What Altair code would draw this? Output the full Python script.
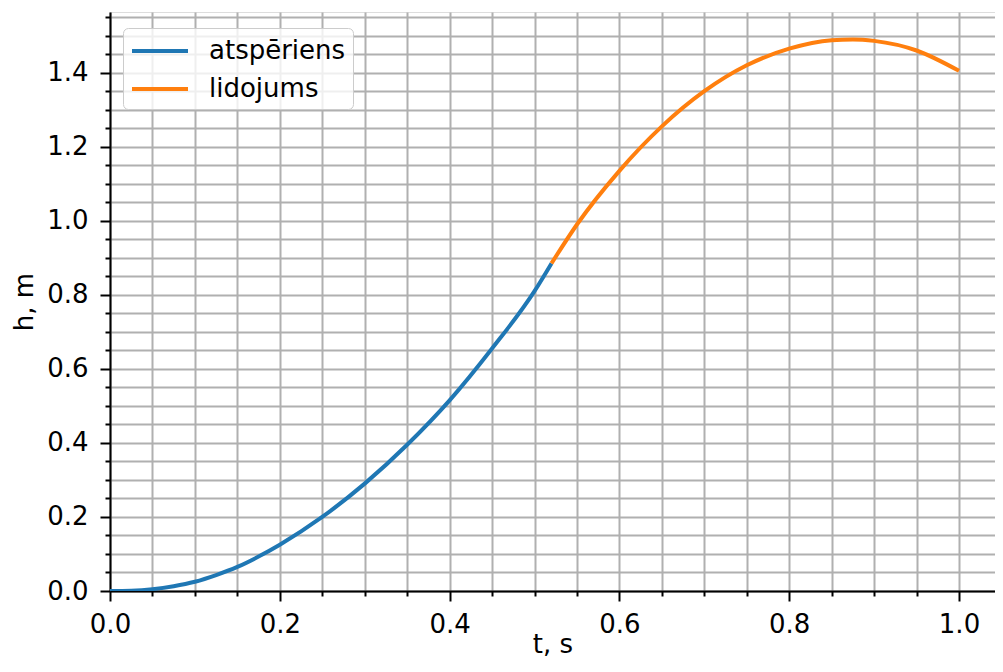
import altair as alt
import pandas as pd

# Series: take-off phase (atspēriens) and flight phase (lidojums)
t_blue = [0.0, 0.025, 0.05, 0.075, 0.1, 0.125, 0.15, 0.175, 0.2, 0.25, 0.3, 0.35, 0.4, 0.45, 0.5, 0.52]
h_blue = [0.0, 0.001, 0.005, 0.013, 0.025, 0.043, 0.065, 0.093, 0.125, 0.2, 0.29, 0.395, 0.515, 0.655, 0.81, 0.885]

t_orange = [0.52, 0.55, 0.6, 0.65, 0.7, 0.75, 0.8, 0.85, 0.875, 0.9, 0.95, 1.0]
h_orange = [0.885, 0.99, 1.135, 1.255, 1.35, 1.42, 1.465, 1.488, 1.49, 1.486, 1.46, 1.405]

series_names = ["atspēriens", "lidojums"]
series_colors = ["#1f77b4", "#ff7f0e"]

x_ticks = [0.0, 0.05, 0.1, 0.15, 0.2, 0.25, 0.3, 0.35, 0.4, 0.45, 0.5, 0.55,
           0.6, 0.65, 0.7, 0.75, 0.8, 0.85, 0.9, 0.95, 1.0]
y_ticks = [0.0, 0.05, 0.1, 0.15, 0.2, 0.25, 0.3, 0.35, 0.4, 0.45, 0.5, 0.55,
           0.6, 0.65, 0.7, 0.75, 0.8, 0.85, 0.9, 0.95, 1.0, 1.05, 1.1, 1.15,
           1.2, 1.25, 1.3, 1.35, 1.4, 1.45, 1.5, 1.55]

df = pd.concat([
    pd.DataFrame({"t": t_blue, "h": h_blue, "series": series_names[0]}),
    pd.DataFrame({"t": t_orange, "h": h_orange, "series": series_names[1]}),
])

major = "abs(datum.value*5 - round(datum.value*5)) < 0.001"
FONT = "DejaVu Sans"
FS = 26


def make_axis(values, title, label_pad, **kw):
    return alt.Axis(
        values=values,
        title=title,
        grid=True,
        gridColor="#b0b0b0",
        gridWidth=2,
        gridOpacity=1,
        domain=True,
        domainColor="black",
        domainWidth=2,
        ticks=True,
        tickColor="black",
        tickWidth=2,
        tickSize={"condition": {"test": major, "value": 10}, "value": 5},
        labelExpr=f"({major}) ? format(datum.value, '.1f') : ''",
        labelFont=FONT,
        labelFontSize=FS,
        labelColor="black",
        labelPadding=label_pad,
        labelOverlap=False,
        labelFlush=False,
        titleFont=FONT,
        titleFontSize=FS,
        titleFontWeight="normal",
        titleColor="black",
        titleBaseline="alphabetic",
        **kw,
    )


chart = (
    alt.Chart(df)
    .mark_line(strokeWidth=4, interpolate="monotone", clip=True)
    .encode(
        x=alt.X("t:Q", scale=alt.Scale(domain=[0, 1.0424], nice=False, zero=False),
                axis=make_axis(x_ticks, "t, s", 10, titleY=61)),
        y=alt.Y("h:Q", scale=alt.Scale(domain=[0, 1.564], nice=False, zero=False),
                axis=make_axis(y_ticks, "h, m", 12, titleX=-78)),
        color=alt.Color(
            "series:N",
            scale=alt.Scale(domain=series_names, range=series_colors),
            legend=alt.Legend(
                title=None,
                orient="none",
                legendX=13,
                legendY=16,
                fillColor="rgba(255,255,255,0.8)",
                strokeColor="#cccccc",
                cornerRadius=5,
                padding=7,
                symbolType="M-1,0H3",
                symbolSize=784,
                symbolStrokeWidth=4,
                labelFont=FONT,
                labelFontSize=FS,
                labelColor="black",
                labelOffset=47,
                rowPadding=9,
                labelLimit=400,
            ),
        ),
    )
    .properties(
        width=885,
        height=579,
        autosize=alt.AutoSizeParams(type="none"),
        padding={"left": 102, "top": 4, "right": 0, "bottom": 68},
    )
    .configure_view(stroke="black", strokeWidth=2)
    .configure(background="white")
)

chart.save("out.html", embed_options={"renderer": "svg", "actions": False})
